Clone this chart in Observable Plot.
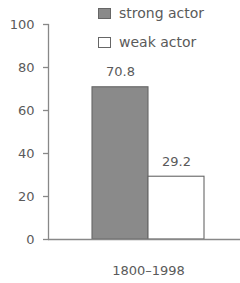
<!DOCTYPE html>
<html>
<head>
<meta charset="utf-8">
<script src="https://cdn.jsdelivr.net/npm/d3@7"></script>
<script src="https://cdn.jsdelivr.net/npm/@observablehq/plot@0.6"></script>
<style>
  html, body { margin: 0; padding: 0; background: #fff; }
  #wrap { position: relative; width: 240px; height: 283px; font-family: "DejaVu Sans", sans-serif; }
  #legend { position: absolute; left: 98px; top: 6px; font-size: 14px; color: #5a5a5a; }
  .item { display: flex; align-items: center; height: 14px; margin-bottom: 15px; }
  .sw { width: 11px; height: 9px; border: 1.2px solid #666; margin-right: 8px; box-sizing: content-box; }
</style>
</head>
<body>
<div id="wrap"><div id="legend"></div></div>
<script>
const periods = ["1800–1998"];
const actors = ["strong actor", "weak actor"];
const values = [70.8, 29.2];
const fills = ["#8a8a8a", "#ffffff"];
const yTicks = [0, 20, 40, 60, 80, 100];

const data = actors.map((a, i) => ({period: periods[0], actor: a, value: values[i]}));

const chart = Plot.plot({
  width: 240,
  height: 283,
  marginLeft: 48,
  marginRight: 0,
  marginTop: 24,
  marginBottom: 44,
  style: {fontFamily: "'DejaVu Sans', sans-serif", fontSize: "13px", color: "#5a5a5a", background: "#fff"},
  x: {domain: actors, range: [92, 204], padding: 0, axis: null},
  y: {domain: [0, 100], ticks: yTicks, label: null},
  color: {domain: actors, range: fills},
  marks: [
    Plot.frame({anchor: "left", stroke: "#888", strokeWidth: 1.3}),
    Plot.axisY({ticks: yTicks, tickSize: 5, tickPadding: 9, stroke: "#888", strokeWidth: 1.3, fill: "#5a5a5a", label: null, fontSize: 13}),
    Plot.barY(data, {x: "actor", y: "value", fill: "actor", stroke: "#666", strokeWidth: 1.1}),
    Plot.text(data, {x: "actor", y: "value", text: d => d.value.toFixed(1), lineAnchor: "bottom", dy: -11, fill: "#5a5a5a", fontSize: 13}),
    Plot.text(periods, {frameAnchor: "bottom", lineAnchor: "middle", text: d => d, dx: 4, dy: 31, fill: "#5a5a5a", fontSize: 13}),
    Plot.ruleY([0], {stroke: "#888", strokeWidth: 1.3})
  ]
});
document.getElementById("wrap").prepend(chart);

const legend = document.getElementById("legend");
actors.forEach((a, i) => {
  const item = document.createElement("div");
  item.className = "item";
  const sw = document.createElement("span");
  sw.className = "sw";
  sw.style.background = fills[i];
  const t = document.createElement("span");
  t.textContent = a;
  item.append(sw, t);
  legend.append(item);
});
</script>
</body>
</html>
